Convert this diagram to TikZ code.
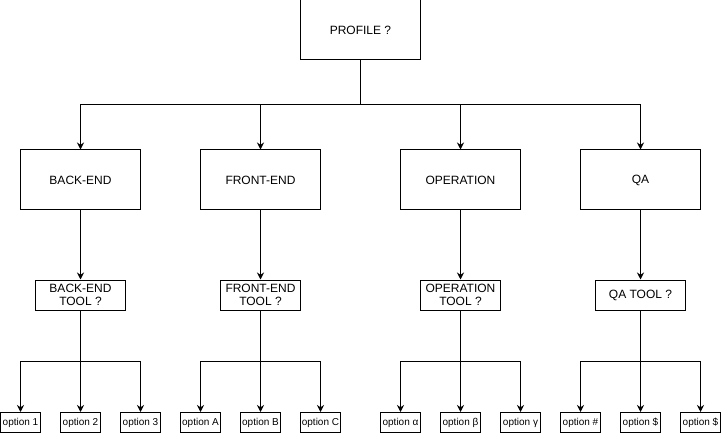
\documentclass[tikz,border=0pt]{standalone}
\usepackage{fontspec}
\setmainfont{Liberation Sans}
\usetikzlibrary{arrows.meta}
\tikzset{
  box/.style={draw, line width=1pt, minimum width=120pt, minimum height=60pt, inner sep=0pt, font=\fontsize{12}{14}\selectfont},
  toolbox/.style={draw, line width=1pt, minimum width=80pt, minimum height=30pt, inner sep=0pt, align=center, font=\fontsize{12}{13}\selectfont},
  optbox/.style={draw, line width=1pt, minimum width=40pt, minimum height=20pt, inner sep=0pt, font=\fontsize{10}{12}\selectfont},
  arr/.style={-{Stealth[length=7pt,width=7pt]}, line width=1pt}
}
\begin{document}
\begin{tikzpicture}[x=1pt,y=-1pt]
    \useasboundingbox (0,0) rectangle (721,433);
    % top level
    \node [box] (profile) at (360.5,30) {PROFILE ?};
    \node [box] (backend) at (80.5,180) {BACK-END};
    \node [box] (frontend) at (260.5,180) {FRONT-END};
    \node [box] (operation) at (460.5,180) {OPERATION};
    \node [box] (qa) at (640.5,180) {QA};
    \coordinate (pj) at (360.5,105);
    \draw [line width=1pt] (profile) -- (pj);
    \draw [arr] (pj) -| (backend);
    \draw [arr] (pj) -| (frontend);
    \draw [arr] (pj) -| (operation);
    \draw [arr] (pj) -| (qa);
    % tool questions
    \node [toolbox, minimum width=90pt] (betool) at (80.5,295) {BACK-END\\TOOL ?};
    \node [toolbox] (fetool) at (260.5,295) {FRONT-END\\TOOL ?};
    \node [toolbox] (optool) at (460.5,295) {OPERATION\\TOOL ?};
    \node [toolbox, minimum width=90pt] (qatool) at (640.5,295) {QA TOOL ?};
    \draw [arr] (backend) -- (betool);
    \draw [arr] (frontend) -- (fetool);
    \draw [arr] (operation) -- (optool);
    \draw [arr] (qa) -- (qatool);
    % options
    \node [optbox] (o1) at (20.5,422.5) {option 1};
    \node [optbox] (o2) at (80.5,422.5) {option 2};
    \node [optbox] (o3) at (140.5,422.5) {option 3};
    \node [optbox] (oA) at (200.5,422.5) {option A};
    \node [optbox] (oB) at (260.5,422.5) {option B};
    \node [optbox] (oC) at (320.5,422.5) {option C};
    \node [optbox] (oal) at (400.5,422.5) {option α};
    \node [optbox] (obe) at (460.5,422.5) {option β};
    \node [optbox] (oga) at (520.5,422.5) {option γ};
    \node [optbox] (ohash) at (580.5,422.5) {option \#};
    \node [optbox] (od1) at (640.5,422.5) {option \$};
    \node [optbox] (od2) at (700.5,422.5) {option \$};
    \coordinate (bej) at (80.5,361);
    \coordinate (fej) at (260.5,361);
    \coordinate (opj) at (460.5,361);
    \coordinate (qaj) at (640.5,361);
    \draw [line width=1pt] (betool) -- (bej);
    \draw [line width=1pt] (fetool) -- (fej);
    \draw [line width=1pt] (optool) -- (opj);
    \draw [line width=1pt] (qatool) -- (qaj);
    \draw [arr] (bej) -| (o1);
    \draw [arr] (bej) -- (o2);
    \draw [arr] (bej) -| (o3);
    \draw [arr] (fej) -| (oA);
    \draw [arr] (fej) -- (oB);
    \draw [arr] (fej) -| (oC);
    \draw [arr] (opj) -| (oal);
    \draw [arr] (opj) -- (obe);
    \draw [arr] (opj) -| (oga);
    \draw [arr] (qaj) -| (ohash);
    \draw [arr] (qaj) -- (od1);
    \draw [arr] (qaj) -| (od2);
\end{tikzpicture}
\end{document}
